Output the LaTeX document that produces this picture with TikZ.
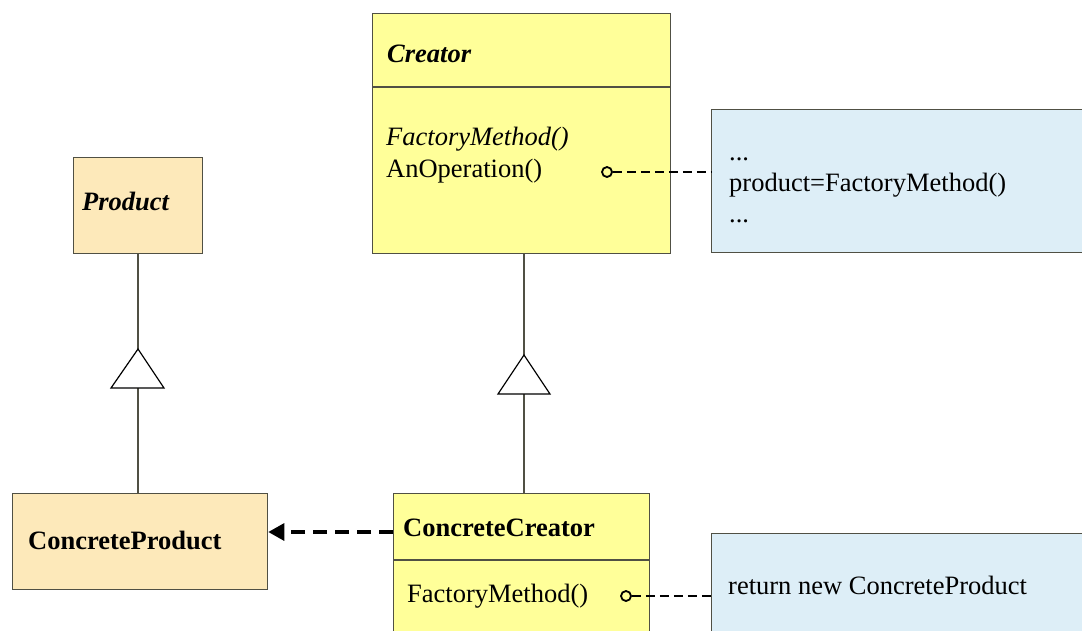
\documentclass[tikz,border=0pt]{standalone}
\usepackage{fontspec}
\setmainfont{Liberation Serif}
\usetikzlibrary{arrows.meta}

\definecolor{creatorfill}{RGB}{255,255,153}
\definecolor{prodfill}{RGB}{253,233,186}
\definecolor{notefill}{RGB}{221,238,247}
\definecolor{edgegray}{RGB}{80,80,68}

\tikzset{
  classbox/.style={draw=edgegray, line width=1.3pt, anchor=north west, inner sep=0pt},
  creatorbox/.style={classbox, fill=creatorfill},
  productbox/.style={classbox, fill=prodfill},
  notebox/.style={draw=edgegray, line width=1.3pt, fill=notefill, anchor=north west, inner sep=0pt},
  label/.style={anchor=base west, inner sep=0pt, font=\fontsize{26.5pt}{31.5pt}\selectfont},
  inherit/.style={draw=edgegray, line width=1.3pt},
  triangle/.style={draw=black, line width=1.2pt, fill=white, line join=miter},
  notelink/.style={draw=black, line width=2pt, dash pattern=on 9pt off 5pt},
  anchordot/.style={circle, draw=black, line width=1.8pt, minimum size=10pt, inner sep=0pt},
  dependency/.style={draw=black, line width=3.2pt, dash pattern=on 14pt off 8pt,
    -{Triangle[length=16pt,width=17pt]}},
}

\begin{document}
\begin{tikzpicture}[x=1pt, y=-1pt]
  \useasboundingbox (0,0) rectangle (1082,630);
  \clip (0,0) rectangle (1082,630);
  \fill[white] (0,0) rectangle (1082,630);

  % notes
  \node[notebox, minimum width=420pt, minimum height=143pt] (note1) at (711,109) {};
  \node[label] (n1a) at (729,160) {...};
  \node[label] (n1b) at (729,191) {product=FactoryMethod()};
  \node[label] (n1c) at (729,222) {...};

  \node[notebox, minimum width=420pt, minimum height=150pt] (note2) at (711,533) {};
  \node[label] (n2a) at (728,594) {return new ConcreteProduct};

  % Creator
  \node[creatorbox, minimum width=298pt, minimum height=240pt] (creator) at (372,13) {};
  \draw[edgegray, line width=1.3pt] (creator.west |- 0,87) -- (creator.east |- 0,87);
  \node[label, font=\fontsize{26.5pt}{31.5pt}\selectfont\bfseries\itshape] (creatorname) at (387,62) {Creator};
  \node[label, font=\fontsize{26.5pt}{31.5pt}\selectfont\itshape] (cfm) at (386,145) {FactoryMethod()};
  \node[label] (cop) at (386,177) {AnOperation()};

  % Product
  \node[productbox, minimum width=129pt, minimum height=96pt] (product) at (73,157) {};
  \node[label, font=\fontsize{26.5pt}{31.5pt}\selectfont\bfseries\itshape] (productname) at (82,210) {Product};

  % ConcreteProduct
  \node[productbox, minimum width=255pt, minimum height=96pt] (cproduct) at (12,493) {};
  \node[label, font=\fontsize{26.5pt}{31.5pt}\selectfont\bfseries] (cproductname) at (28,549) {ConcreteProduct};

  % ConcreteCreator
  \node[creatorbox, minimum width=256pt, minimum height=200pt] (ccreator) at (393,493) {};
  \draw[edgegray, line width=1.3pt] (ccreator.west |- 0,560) -- (ccreator.east |- 0,560);
  \node[label, font=\fontsize{26.5pt}{31.5pt}\selectfont\bfseries] (ccreatorname) at (403,536) {ConcreteCreator};
  \node[label] (ccfm) at (407,602) {FactoryMethod()};

  % generalization: ConcreteProduct -> Product
  \coordinate (papex) at (138,349);
  \coordinate (pbase) at (138,388);
  \draw[inherit] (product.south -| papex) -- (papex);
  \draw[inherit] (pbase) -- (cproduct.north -| pbase);
  \draw[triangle] (papex) -- (111,388) -- (164,388) -- cycle;

  % generalization: ConcreteCreator -> Creator
  \coordinate (capex) at (524,355);
  \coordinate (cbase) at (524,394);
  \draw[inherit] (creator.south -| capex) -- (capex);
  \draw[inherit] (cbase) -- (ccreator.north -| cbase);
  \draw[triangle] (capex) -- (498,394) -- (550,394) -- cycle;

  % note attachments
  \node[anchordot] (dot1) at (607,172) {};
  \draw[notelink] (dot1.east) -- (note1.west |- dot1);
  \node[anchordot] (dot2) at (626,596) {};
  \draw[notelink] (dot2.east) -- (note2.west |- dot2);

  % dependency: ConcreteCreator creates ConcreteProduct
  \draw[dependency] (ccreator.west |- 0,532) -- (cproduct.east |- 0,532);
\end{tikzpicture}
\end{document}
